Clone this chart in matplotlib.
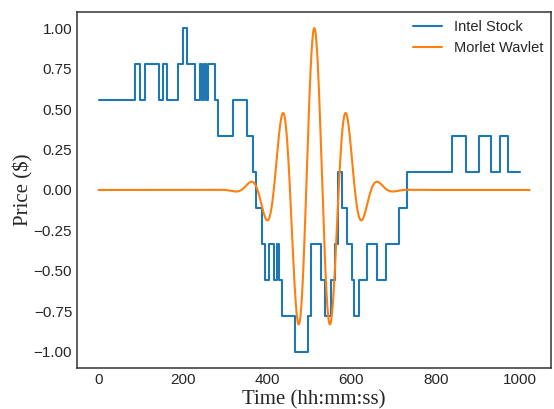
import numpy as np
import matplotlib
matplotlib.use("Agg")
from matplotlib import pyplot as plt

# intel stock, normalised price: time where each step starts and its level
step_times = [0, 86, 99, 111, 144, 154, 163, 189, 200, 211, 229, 240, 245,
              251, 254, 259, 277, 283, 318, 353, 366, 374, 388, 394, 404,
              416, 423, 429, 436, 467, 498, 504, 528, 538, 551, 561, 567,
              578, 590, 602, 606, 618, 638, 661, 681, 712, 732, 838, 871,
              903, 931, 952, 972, 1001]
step_levels = [0.556, 0.778, 0.556, 0.778, 0.556, 0.778, 0.556, 0.778, 1.0,
               0.778, 0.556, 0.778, 0.556, 0.778, 0.556, 0.778, 0.556, 0.333,
               0.556, 0.333, 0.111, -0.111, -0.333, -0.556, -0.333, -0.556,
               -0.333, -0.556, -0.778, -1.0, -0.778, -0.333, -0.556, -0.778,
               -0.556, -0.333, 0.111, -0.111, -0.333, -0.556, -0.778, -0.556,
               -0.333, -0.556, -0.333, -0.111, 0.111, 0.333, 0.111, 0.333,
               0.111, 0.333, 0.111, 0.111]

n_samples = 1024
wav_center = 512
wav_period = 77
wav_sigma = 62

t = np.arange(n_samples)
d = t - wav_center
morlet = np.cos(2 * np.pi * d / wav_period) * np.exp(-d**2 / (2 * wav_sigma**2))

plt.style.use("seaborn-v0_8-white")
plt.rcParams['font.family'] = ['Liberation Sans', 'DejaVu Sans']

fig = plt.figure(figsize=(5.54, 4.09), dpi=100)
ax = fig.add_axes([0.139, 0.1, 0.856, 0.871])

ax.plot(step_times, step_levels, drawstyle='steps-post', color='#1f77b4',
        lw=1.5, label='Intel Stock')
ax.plot(t, morlet, color='#ff7f0e', lw=1.5, label='Morlet Wavlet')

for sp in ax.spines.values():
    sp.set_color('#333333')
    sp.set_linewidth(1.1)

ax.set_yticks([-1.0, -0.75, -0.5, -0.25, 0.0, 0.25, 0.5, 0.75, 1.0])
ax.set_xticks([0, 200, 400, 600, 800, 1000])
ax.tick_params(labelsize=11, labelcolor='#262626', length=0)

ax.set_xlabel('Time (hh:mm:ss)', family='Liberation Serif', fontsize=15,
              color='#262626', labelpad=2)
ax.set_ylabel('Price ($)', family='Liberation Serif', fontsize=15,
              color='#262626', labelpad=0)

ax.legend(loc='upper right', fontsize=10.5, frameon=False, borderaxespad=0.15)

fig.savefig('out.png', dpi=100)
